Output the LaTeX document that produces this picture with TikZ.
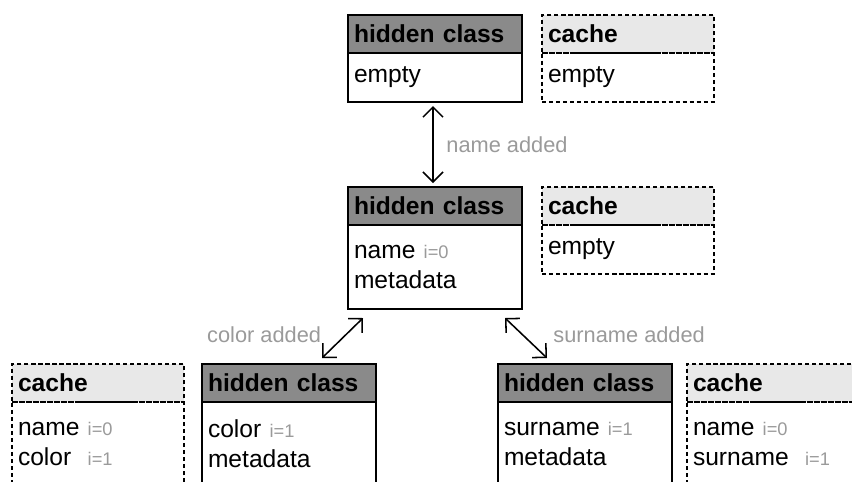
\documentclass[tikz,border=0pt]{standalone}
\usepackage{fontspec}
\setmainfont{Liberation Sans}
\usetikzlibrary{arrows.meta, positioning, calc}

\definecolor{hcgray}{HTML}{8A8A8A}
\definecolor{cachegray}{HTML}{E8E8E8}
\definecolor{notegray}{HTML}{9A9A9A}
\newcommand{\slotidx}[1]{{\fontsize{13}{15}\selectfont\color{notegray}#1}}

\begin{document}
\begin{tikzpicture}[
    hc/.style={draw, line width=1.3pt, text width=4.05cm, inner xsep=0.15cm, inner ysep=0pt,
               outer sep=0pt, align=left, font=\fontsize{17.5}{21.5}\selectfont},
    hchead/.style={hc, fill=hcgray, minimum height=0.95cm, font=\fontsize{17.5}{21.5}\selectfont\bfseries},
    ca/.style={hc, dash pattern=on 3pt off 2pt, text width=4cm},
    cahead/.style={ca, fill=cachegray, minimum height=0.95cm, font=\fontsize{17.5}{21.5}\selectfont\bfseries},
    short/.style={minimum height=1.225cm},
    tall/.style={minimum height=2.1cm},
    lbl/.style={font=\fontsize{15.5}{18}\selectfont, text=notegray},
    link/.style={{Straight Barb[length=2.5mm]}-{Straight Barb[length=2.5mm]}, line width=1.1pt},
  ]

  \useasboundingbox (0,0) rectangle (21.3,-12.025);
  \clip (0,0) rectangle (21.3,-12.025);

  % empty object
  \node[hchead, anchor=north west] (hc0) at (8.7,-0.375) {hidden class};
  \node[hc, short, below=0pt of hc0] (hc0body) {empty};
  \node[cahead, anchor=north west] (cache0) at (13.55,-0.375) {cache};
  \node[ca, short, below=0pt of cache0] (cache0body) {empty};

  % name added
  \node[hchead, anchor=north west] (hc1) at (8.7,-4.675) {hidden class};
  \node[hc, tall, below=0pt of hc1] (hc1body) {name \slotidx{i=0}\\metadata};
  \node[cahead, anchor=north west] (cache1) at (13.55,-4.675) {cache};
  \node[ca, short, below=0pt of cache1] (cache1body) {empty};

  \draw[link] ([xshift=-0.05cm,yshift=-0.1cm]hc0body.south) -- ([xshift=-0.05cm,yshift=0.1cm]hc1.north)
    node[lbl, midway, right=0.2cm] {name added};

  % color added
  \node[cahead, anchor=north west] (cache2) at (0.3,-9.1) {cache};
  \node[ca, tall, below=0pt of cache2] (cache2body) {name \slotidx{i=0}\\color \ \slotidx{i=1}};
  \node[hchead, anchor=north west] (hc2) at (5.05,-9.1) {hidden class};
  \node[hc, tall, below=0pt of hc2] (hc2body) {color \slotidx{i=1}\\metadata};

  \draw[link] ([xshift=0.825cm,yshift=0.15cm]hc2.north) -- ([xshift=0.375cm,yshift=-0.225cm]hc1body.south west)
    node[lbl, midway, left=0.4cm, yshift=0.09cm] {color added};

  % surname added
  \node[hchead, anchor=north west] (hc3) at (12.45,-9.1) {hidden class};
  \node[hc, tall, below=0pt of hc3] (hc3body) {surname \slotidx{i=1}\\metadata};
  \node[cahead, anchor=north west] (cache3) at (17.175,-9.1) {cache};
  \node[ca, tall, below=0pt of cache3] (cache3body) {name \slotidx{i=0}\\surname \ \slotidx{i=1}};

  \draw[link] ([xshift=-0.95cm,yshift=0.15cm]hc3.north) -- ([xshift=-0.425cm,yshift=-0.225cm]hc1body.south east)
    node[lbl, midway, right=0.55cm, yshift=0.09cm] {surname added};

\end{tikzpicture}
\end{document}
